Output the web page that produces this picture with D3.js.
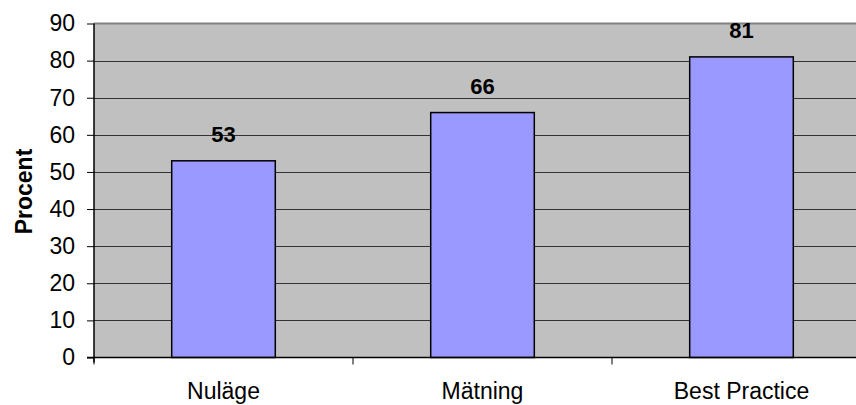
<!DOCTYPE html>
<html>
<head>
<meta charset="utf-8">
<script src="https://cdn.jsdelivr.net/npm/d3@7"></script>
<style>
  html, body { margin: 0; padding: 0; background: #fff; }
  svg { display: block; }
  text { font-family: Arial, "Liberation Sans", sans-serif; fill: #000; }
</style>
</head>
<body>
<svg id="chart" width="856" height="405"></svg>
<script>
// Category names and their percentage values
const categories = ["Nuläge", "Mätning", "Best Practice"];
const values = [53, 66, 81];
const yTicks = [0, 10, 20, 30, 40, 50, 60, 70, 80, 90];
const yLabel = "Procent";

const svg = d3.select("#chart");
const plot = { left: 94, top: 23.5, width: 777, height: 334 };

const x = d3.scaleBand()
  .domain(categories)
  .range([plot.left, plot.left + plot.width])
  .paddingInner(0.6)
  .paddingOuter(0.3);

const y = d3.scaleLinear()
  .domain([0, 90])
  .range([plot.top + plot.height, plot.top]);

// Gray plot background
svg.append("rect")
  .attr("x", plot.left).attr("y", plot.top)
  .attr("width", plot.width).attr("height", plot.height)
  .attr("fill", "#c0c0c0");

// Horizontal gridlines
svg.append("g")
  .selectAll("line")
  .data(yTicks.filter(t => t > 0 && t < 90))
  .join("line")
  .attr("x1", plot.left).attr("x2", plot.left + plot.width)
  .attr("y1", d => Math.round(y(d)) + 0.5).attr("y2", d => Math.round(y(d)) + 0.5)
  .attr("stroke", "#333").attr("stroke-width", 1);

// Top border of the plot area
svg.append("line")
  .attr("x1", plot.left).attr("x2", plot.left + plot.width)
  .attr("y1", y(90)).attr("y2", y(90))
  .attr("stroke", "#808080").attr("stroke-width", 2);

// Bars
svg.append("g")
  .selectAll("rect")
  .data(values)
  .join("rect")
  .attr("x", (d, i) => x(categories[i]))
  .attr("y", d => y(d))
  .attr("width", x.bandwidth())
  .attr("height", d => y(0) - y(d))
  .attr("fill", "#9999ff")
  .attr("stroke", "#000")
  .attr("stroke-width", 1.5);

// Value labels
svg.append("g")
  .selectAll("text")
  .data(values)
  .join("text")
  .attr("x", (d, i) => x(categories[i]) + x.bandwidth() / 2)
  .attr("y", d => y(d) - 19)
  .attr("text-anchor", "middle")
  .attr("font-size", 22)
  .attr("font-weight", "bold")
  .text(d => d);

// Y axis
const yAxis = d3.axisLeft(y).tickValues(yTicks).tickSize(7).tickPadding(12);
const gy = svg.append("g")
  .attr("transform", `translate(${plot.left},0)`)
  .call(yAxis);
gy.select(".domain").attr("stroke", "#000").attr("stroke-width", 1.5)
  .attr("d", `M0,${plot.top}V${plot.top + plot.height + 5}`);
gy.selectAll(".tick line").attr("stroke", "#000");
gy.selectAll(".tick text")
  .attr("font-size", 23)
  .attr("font-family", "Arial, 'Liberation Sans', sans-serif")
  .attr("fill", "#000");

// X axis with ticks between categories
const step = x.step();
const boundaries = [0, 1, 2, 3].map(i => plot.left + i * step);
const gx = svg.append("g");
gx.append("line")
  .attr("x1", plot.left - 7).attr("x2", plot.left + plot.width)
  .attr("y1", y(0)).attr("y2", y(0))
  .attr("stroke", "#000").attr("stroke-width", 1.5);
gx.selectAll("line.bt")
  .data(boundaries)
  .join("line")
  .attr("class", "bt")
  .attr("x1", d => d).attr("x2", d => d)
  .attr("y1", y(0)).attr("y2", y(0) + 7)
  .attr("stroke", "#000").attr("stroke-width", 1);
gx.selectAll("text")
  .data(categories)
  .join("text")
  .attr("x", d => x(d) + x.bandwidth() / 2)
  .attr("y", 399)
  .attr("text-anchor", "middle")
  .attr("font-size", 23)
  .text(d => d);

// Y axis title
svg.append("text")
  .attr("transform", `translate(32,${plot.top + plot.height / 2 + 1}) rotate(-90)`)
  .attr("text-anchor", "middle")
  .attr("font-size", 23)
  .attr("font-weight", "bold")
  .text(yLabel);
</script>
</body>
</html>
